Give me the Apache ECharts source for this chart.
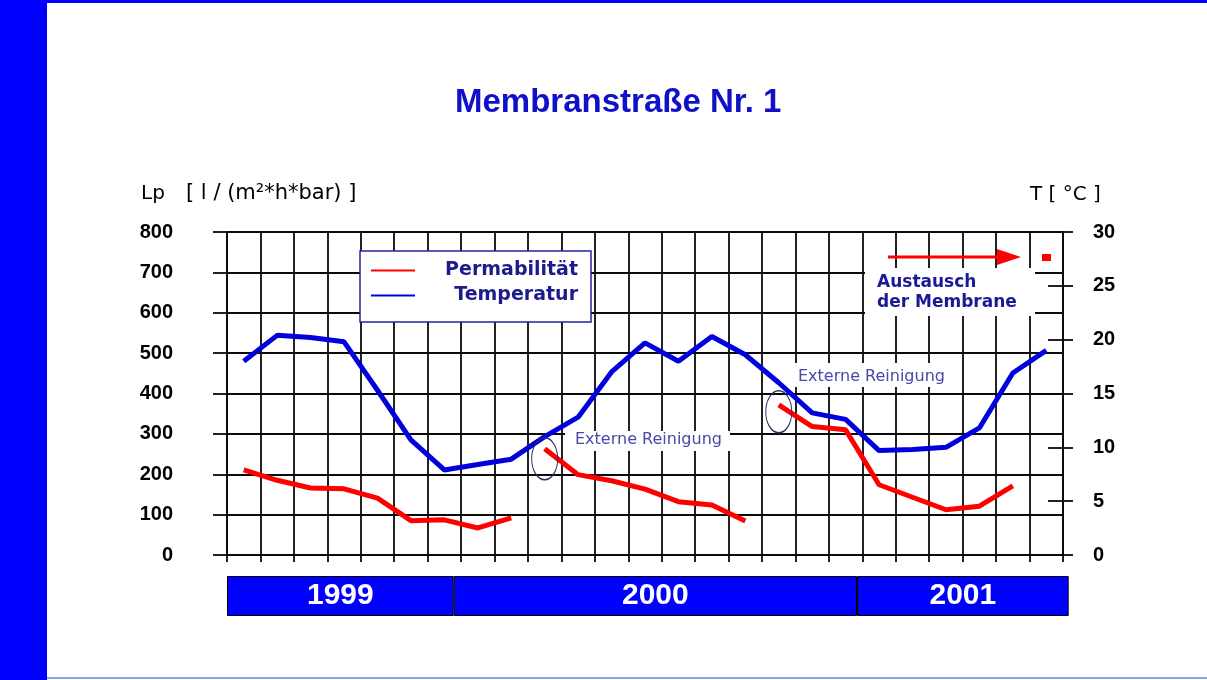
<!DOCTYPE html>
<html>
<head>
<meta charset="utf-8">
<script src="https://cdn.jsdelivr.net/npm/echarts@6/dist/echarts.min.js"></script>
<style>
html, body { margin: 0; padding: 0; background: #fff; }
#main { width: 1207px; height: 680px; }
</style>
</head>
<body>
<div id="main"></div>
<script>
// monthly values, June 1999 - June 2001
var months = ['Jun 99', 'Jul 99', 'Aug 99', 'Sep 99', 'Okt 99', 'Nov 99', 'Dez 99',
    'Jan 00', 'Feb 00', 'Mär 00', 'Apr 00', 'Mai 00', 'Jun 00', 'Jul 00', 'Aug 00', 'Sep 00', 'Okt 00', 'Nov 00', 'Dez 00',
    'Jan 01', 'Feb 01', 'Mär 01', 'Apr 01', 'Mai 01', 'Jun 01'];

var temperatur = [18.0, 20.4, 20.2, 19.8, 15.3, 10.7, 7.9, 8.4, 8.9, 11.0, 12.8, 17.0, 19.7,
    18.0, 20.3, 18.6, 16.0, 13.2, 12.6, 9.7, 9.8, 10.0, 11.8, 16.9, 19.0];

// permeability, split at the two external cleanings
var permabilitaet1 = [211, 185, 166, 164, 141, 85, 87, 67, 92, null, null, null, null,
    null, null, null, null, null, null, null, null, null, null, null, null];
var permabilitaet2 = [null, null, null, null, null, null, null, null, null, 263, 199, 184, 163,
    132, 124, 84, null, null, null, null, null, null, null, null, null];
var permabilitaet3 = [null, null, null, null, null, null, null, null, null, null, null, null, null,
    null, null, null, 372, 318, 310, 174, 143, 112, 121, 171, null];

var lpTicks = [0, 800, 100];
var tTicks = [0, 30, 5];

var years = ['1999', '2000', '2001'];
var yearMonths = [6.78, 12.06, 6.33];

var myChart = echarts.init(document.getElementById('main'));

var gridColor = '#0a0a0a';
var gridWidth = 1.8;
var ellipse = {
    symbol: 'circle',
    symbolSize: [26, 42],
    silent: true,
    itemStyle: { color: 'rgba(0,0,0,0)', borderColor: '#2a2a66', borderWidth: 1.2 },
    label: { show: false }
};

function redLine(data, markIdx, offsetY) {
    var s = {
        name: 'Permabilität',
        type: 'line',
        data: data,
        symbol: 'none',
        lineStyle: { color: '#ff0000', width: 5 },
        itemStyle: { color: '#ff0000' },
        z: 3
    };
    if (markIdx != null) {
        s.markPoint = Object.assign({}, ellipse, {
            symbolOffset: [0, offsetY],
            data: [{ coord: [months[markIdx], data[markIdx]] }]
        });
    }
    return s;
}

var series = [
    redLine(permabilitaet1),
    redLine(permabilitaet2, 9, 10),
    redLine(permabilitaet3, 16, 7),
    {
        name: 'Temperatur',
        type: 'line',
        yAxisIndex: 1,
        data: temperatur,
        symbol: 'none',
        lineStyle: { color: '#0000dd', width: 5 },
        itemStyle: { color: '#0000dd' },
        z: 4
    }
];

// year bar under the chart
var yearLabel = { show: true, position: 'inside', color: '#fff', fontSize: 30, fontWeight: 'bold', fontFamily: 'Liberation Sans' };
for (var i = 0; i < years.length; i++) {
    series.push({
        name: years[i],
        type: 'bar',
        xAxisIndex: 1,
        yAxisIndex: 3,
        stack: 'jahre',
        barWidth: 40,
        clip: false,
        silent: true,
        data: [yearMonths[i]],
        itemStyle: { color: '#0000ff', borderColor: '#000', borderWidth: 1 },
        label: Object.assign({ formatter: years[i] }, yearLabel)
    });
}

var labelFont = { color: '#000', fontSize: 20, fontWeight: 'bold', fontFamily: 'Liberation Sans' };
var gridLine = { color: gridColor, width: gridWidth };

var option = {
    animation: false,
    backgroundColor: '#fff',
    title: {
        text: 'Membranstraße Nr. 1',
        left: 455,
        top: 86,
        padding: 0,
        textStyle: { color: '#1010c8', fontSize: 33, fontWeight: 'bold', fontFamily: 'Liberation Sans' }
    },
    legend: {
        data: ['Permabilität', 'Temperatur'],
        orient: 'vertical',
        left: 360,
        top: 251,
        padding: [10, 13, 17, 10],
        itemGap: 6,
        itemWidth: 44,
        itemHeight: 14,
        selectedMode: false,
        backgroundColor: '#fff',
        borderColor: '#2323a0',
        borderWidth: 1.5,
        lineStyle: { width: 2 },
        itemStyle: { opacity: 0, borderWidth: 0 },
        formatter: function (n) { return '{t|' + n + '}'; },
        textStyle: {
            rich: {
                t: { width: 158, align: 'right', fontFamily: 'DejaVu Sans', fontWeight: 'bold', fontSize: 19, color: '#1c1c8c' }
            }
        }
    },
    grid: [
        { left: 227, right: 144, top: 232, bottom: 125 },
        { left: 227, right: 144, top: 576, height: 40 }
    ],
    xAxis: [
        {
            type: 'category',
            data: months,
            boundaryGap: true,
            axisLine: { lineStyle: gridLine },
            axisTick: { show: true, interval: 0, length: 7, lineStyle: gridLine },
            axisLabel: { show: false, interval: 0 },
            splitLine: { show: true, interval: 0, lineStyle: gridLine }
        },
        { gridIndex: 1, type: 'value', min: 0, max: 25, show: false }
    ],
    yAxis: [
        {
            type: 'value',
            min: lpTicks[0], max: lpTicks[1], interval: lpTicks[2],
            axisLine: { show: true, lineStyle: gridLine },
            axisTick: { show: true, length: 14, lineStyle: gridLine },
            axisLabel: Object.assign({ margin: 54 }, labelFont),
            splitLine: { show: true, lineStyle: gridLine }
        },
        {
            type: 'value',
            position: 'right',
            min: tTicks[0], max: tTicks[1], interval: tTicks[2],
            axisLine: { show: true, lineStyle: gridLine },
            axisTick: { show: true, length: 10, lineStyle: gridLine },
            axisLabel: Object.assign({ margin: 30 }, labelFont),
            splitLine: { show: false }
        },
        {
            type: 'value',
            position: 'right',
            min: tTicks[0], max: tTicks[1], interval: tTicks[2],
            axisLine: { show: false },
            axisTick: { show: true, inside: true, length: 15, lineStyle: gridLine },
            axisLabel: { show: false },
            splitLine: { show: false }
        },
        { gridIndex: 1, type: 'category', data: ['Jahr'], show: false }
    ],
    graphic: [
        // slide frame
        { type: 'rect', z: 10, shape: { x: 0, y: 0, width: 47, height: 680 }, style: { fill: '#0000ff' } },
        { type: 'rect', z: 10, shape: { x: 0, y: 0, width: 1207, height: 3 }, style: { fill: '#0000ff' } },
        { type: 'rect', z: 10, shape: { x: 47, y: 677, width: 1160, height: 2 }, style: { fill: '#8ea2e6' } },
        // axis names
        { type: 'text', z: 10, x: 141, y: 194, style: { text: 'Lp', fill: '#000', fontSize: 20, fontFamily: 'DejaVu Sans', verticalAlign: 'middle' } },
        { type: 'text', z: 10, x: 186, y: 194, style: { text: '[ l / (m²*h*bar) ]', fill: '#000', fontSize: 21, fontFamily: 'DejaVu Sans', verticalAlign: 'middle' } },
        { type: 'text', z: 10, x: 1030, y: 195, style: { text: 'T [ °C ]', fill: '#000', fontSize: 20, fontFamily: 'DejaVu Sans', verticalAlign: 'middle' } },
        // notes
        { type: 'rect', z: 1, shape: { x: 565, y: 431, width: 165, height: 20 }, style: { fill: '#fff' } },
        { type: 'text', z: 10, x: 575, y: 440, style: { text: 'Externe Reinigung', fill: '#4848a8', fontSize: 16, fontFamily: 'DejaVu Sans', verticalAlign: 'middle' } },
        { type: 'rect', z: 1, shape: { x: 790, y: 363, width: 162, height: 24 }, style: { fill: '#fff' } },
        { type: 'text', z: 10, x: 798, y: 377, style: { text: 'Externe Reinigung', fill: '#4848a8', fontSize: 16, fontFamily: 'DejaVu Sans', verticalAlign: 'middle' } },
        { type: 'rect', z: 1, shape: { x: 865, y: 268, width: 170, height: 48 }, style: { fill: '#fff' } },
        { type: 'text', z: 10, x: 877, y: 283, style: { text: 'Austausch', fill: '#1a1a96', fontSize: 17, fontWeight: 'bold', fontFamily: 'DejaVu Sans', verticalAlign: 'middle' } },
        { type: 'text', z: 10, x: 877, y: 303, style: { text: 'der Membrane', fill: '#1a1a96', fontSize: 17, fontWeight: 'bold', fontFamily: 'DejaVu Sans', verticalAlign: 'middle' } },
        { type: 'line', z: 10, shape: { x1: 888, y1: 257, x2: 1000, y2: 257 }, style: { stroke: '#ff0000', lineWidth: 3 } },
        { type: 'polygon', z: 10, shape: { points: [[997, 249], [1021, 257], [997, 265]] }, style: { fill: '#ff0000' } },
        { type: 'rect', z: 10, shape: { x: 1042, y: 254, width: 9, height: 7 }, style: { fill: '#ff0000' } }
    ],
    series: series
};

myChart.setOption(option);
</script>
</body>
</html>
